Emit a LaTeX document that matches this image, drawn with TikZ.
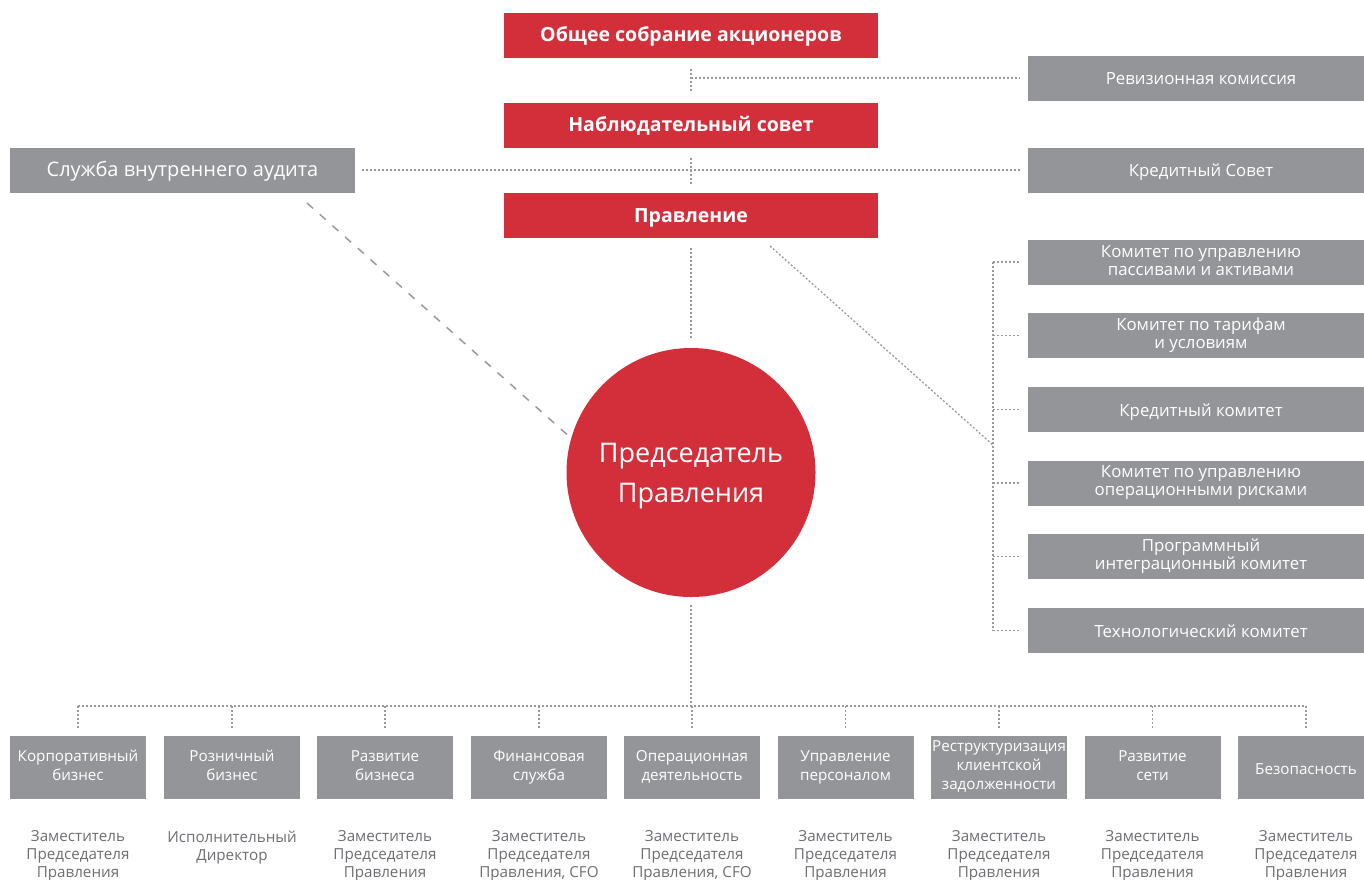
\documentclass[tikz,border=0pt]{standalone}
\usepackage{fontspec}
\setmainfont{Open Sans}
\definecolor{bankred}{HTML}{D32F3B}
\definecolor{boxgrey}{HTML}{939598}
\definecolor{linegrey}{HTML}{9A9A9A}
\definecolor{rolegrey}{HTML}{6D6E71}
% strut: depth 4pt, height cap+4pt
\newcommand\capstrut[1]{\rule[-4pt]{0pt}{\dimexpr#1+8pt\relax}}
\begin{document}
\begin{tikzpicture}
[
 x=1pt, y=-1pt,
 inner sep=0pt,
 CAPS/.style={execute at begin node={\capstrut{#1}}, execute at end node={\capstrut{#1}}},
 REDBOX/.style={rectangle, fill=bankred, text=white, minimum width=374pt, minimum height=45pt,
                CAPS=13.9pt, font=\bfseries\fontsize{19.5}{22}\selectfont},
 SIDEBOX/.style={rectangle, fill=boxgrey, text=white, minimum width=346pt, minimum height=45pt,
                align=center, CAPS=13.5pt, font=\fontsize{16.8}{18}\selectfont},
 DEPBOX/.style={rectangle, fill=boxgrey, text=white, minimum width=136pt, minimum height=63pt,
                align=center, CAPS=14.9pt, font=\fontsize{15.2}{19}\selectfont},
 ROLE/.style={anchor=north, text=rolegrey, align=center, CAPS=10.8pt, font=\fontsize{15.2}{18}\selectfont},
 CHAIR/.style={circle, fill=bankred, minimum size=249pt},
 CHAIRTXT/.style={text=white, align=center, CAPS=19.3pt, font=\fontsize{27}{40}\selectfont},
 LINK/.style={draw=linegrey, line width=1.3pt, dash pattern=on 2pt off 2pt},
 DASHLINK/.style={draw=linegrey, line width=1.5pt, dash pattern=on 8pt off 9pt},
 ]
%
\clip (0,0) rectangle (1364,879);
%
\node [REDBOX]  (GSM)  at (691, 35)   {Общее собрание акционеров};
\node [REDBOX]  (SB)   at (691,125)   {Наблюдательный совет};
\node [REDBOX]  (BRD)  at (691,215.5) {Правление};
%
\node [SIDEBOX, minimum width=345pt, CAPS=14.3pt, font=\fontsize{20}{22}\selectfont]
                (AUD)  at (182.5,170) {Служба внутреннего аудита};
\node [SIDEBOX] (REV)  at (1201, 78)  {Ревизионная комиссия};
\node [SIDEBOX] (CRS)  at (1201,170)  {Кредитный Совет};
%
\foreach \i/\y/\txt in {1/262/{Комитет по управлению\\пассивами и активами},
                        2/335.5/{Комитет по тарифам\\и условиям},
                        3/409.5/{Кредитный комитет},
                        4/483/{Комитет по управлению\\операционными рисками},
                        5/556.5/{Программный\\интеграционный комитет},
                        6/630.5/{Технологический комитет}}
   {
     \node [SIDEBOX] (C\i) at (1201,\y) {\txt};
     \coordinate (B\i) at (993,\y);
   }
%
\node [CHAIR]    (CH)    at (691,472.5) {};
\node [CHAIRTXT] (CHtxt) at (691,476)   {Председатель\\Правления};
%
\foreach \i/\x/\txt/\role in {1/78/{Корпоративный\\бизнес}/{Заместитель\\Председателя\\Правления},
                              2/232/{Розничный\\бизнес}/{Исполнительный\\Директор},
                              3/385/{Развитие\\бизнеса}/{Заместитель\\Председателя\\Правления},
                              4/539/{Финансовая\\служба}/{Заместитель\\Председателя\\Правления, CFO},
                              5/692/{Операционная\\деятельность}/{Заместитель\\Председателя\\Правления, CFO},
                              6/845.5/{Управление\\персоналом}/{Заместитель\\Председателя\\Правления},
                              7/999/{Реструктуризация\\клиентской\\задолженности}/{Заместитель\\Председателя\\Правления},
                              8/1152.5/{Развитие\\сети}/{Заместитель\\Председателя\\Правления},
                              9/1306/{Безопасность}/{Заместитель\\Председателя\\Правления}}
   {
     \node [DEPBOX] (D\i) at (\x,767.5) {\txt};
     \node [ROLE]   (R\i) at (\x,830.5) {\role};
     \coordinate (T\i) at (\x,706);
   }
%
\coordinate (J1)      at (691, 78);
\coordinate (AUDtail) at (307,203);
\coordinate (BRDtail) at (770,246);
\coordinate (CMbus)   at (993,445);
\coordinate (BUS)     at (691,706);
%
\draw [LINK, shorten <=11pt, shorten >=10pt] (GSM.south) -- (SB.north);
\draw [LINK, shorten >=8pt]                  (J1) -- (REV.west);
\draw [LINK, shorten <=10pt, shorten >=9pt]  (SB.south) -- (BRD.north);
\draw [LINK, shorten <=7pt, shorten >=8pt]   (AUD.east) -- (CRS.west);
\draw [LINK, shorten <=10pt, shorten >=8pt]  (BRD.south) -- (CH.north);
%
\draw [DASHLINK]                             (AUDtail) -- (CH.164);
\draw [LINK]                                 (BRDtail) -- (CMbus);
%
\draw [LINK] (B1) -- (B6);
\foreach \i in {1,...,6}
   \draw [LINK, shorten >=8pt] (B\i) -- (C\i.west);
%
\draw [LINK, shorten <=8pt] (CH.south) -- (BUS);
\draw [LINK] (T1) -- (T9);
\foreach \i in {1,...,9}
   \draw [LINK, shorten >=8pt] (T\i) -- (D\i.north);
\end{tikzpicture}
\end{document}
